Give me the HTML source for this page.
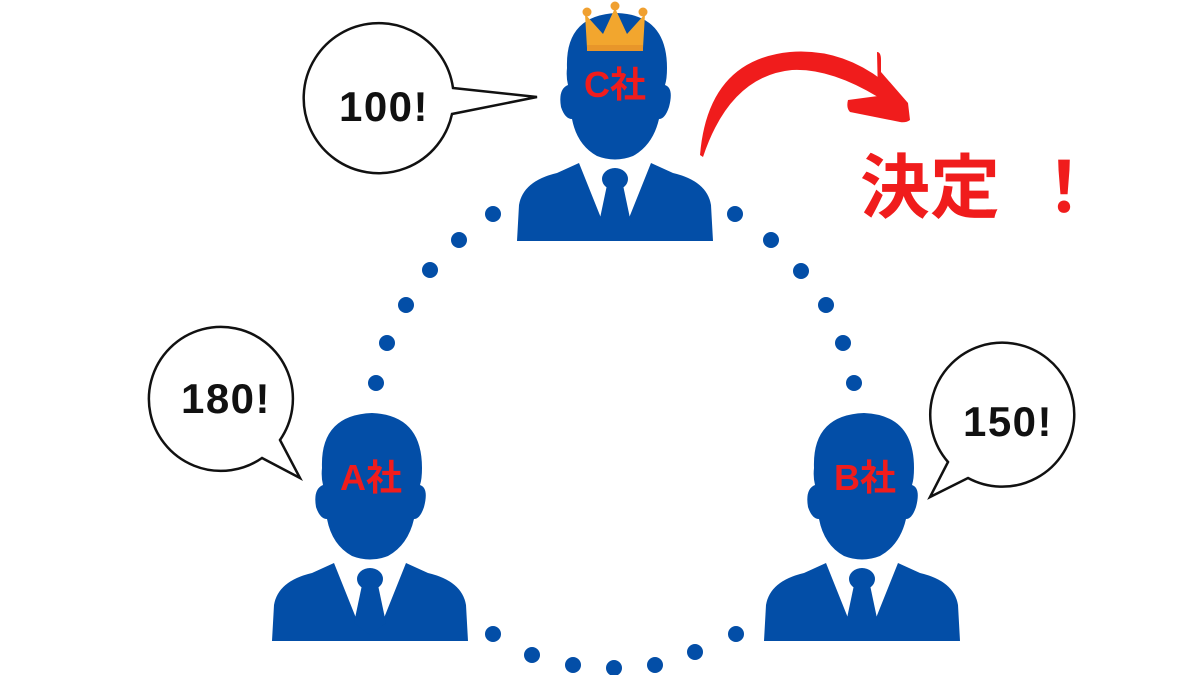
<!DOCTYPE html>
<html><head><meta charset="utf-8"><style>
html,body{margin:0;padding:0;background:#fff;}
svg{display:block;}
.lbl{font-family:"Liberation Sans","Noto Sans CJK JP",sans-serif;font-weight:bold;}
</style></head><body>
<svg width="1200" height="675" viewBox="0 0 1200 675" xmlns="http://www.w3.org/2000/svg">
<defs>
<g id="p">
  <path d="M50,55 Q48,2 100,0 Q150,2 150,55 Q150,66 148,72 Q157,75 152,94 Q148,106 142,106 Q136,132 116,143 Q98,150 80,143 Q60,132 55,106 Q48,106 44,94 Q41,76 51,72 Q49,64 50,55 Z" fill="#034ea7"/>
  <path d="M0,228 L2,192 Q6,168 40,160 L62,150 L86,210 L110,210 L134,150 L156,160 Q190,168 194,192 L196,228 Z" fill="#034ea7"/>
  <ellipse cx="98" cy="166" rx="13" ry="11" fill="#034ea7"/>
  <path d="M90,172 L106,172 L114,210 L98,222 L82,210 Z" fill="#034ea7"/>
</g>
</defs>
<g fill="#034ea7">
<circle cx="493" cy="214" r="8"/><circle cx="459" cy="240" r="8"/><circle cx="430" cy="270" r="8"/><circle cx="406" cy="305" r="8"/><circle cx="387" cy="343" r="8"/><circle cx="376" cy="383" r="8"/>
<circle cx="493" cy="634" r="8"/><circle cx="532" cy="655" r="8"/><circle cx="573" cy="665" r="8"/><circle cx="614" cy="668" r="8"/><circle cx="655" cy="665" r="8"/><circle cx="695" cy="652" r="8"/><circle cx="736" cy="634" r="8"/>
<circle cx="735" cy="214" r="8"/><circle cx="771" cy="240" r="8"/><circle cx="801" cy="271" r="8"/><circle cx="826" cy="305" r="8"/><circle cx="843" cy="343" r="8"/><circle cx="854" cy="383" r="8"/>
</g>
<use href="#p" x="517" y="13"/>
<use href="#p" x="272" y="413"/>
<use href="#p" x="764" y="413"/>
<g>
<path d="M587,48 L585,14 L603,34 L615,8 L627,34 L645,14 L643,48 Z" fill="#f2a62e"/>
<rect x="587" y="45" width="56" height="6" fill="#e8962a"/>
<circle cx="587" cy="12" r="4.5" fill="#f0a030"/><circle cx="615" cy="6" r="4.5" fill="#f0a030"/><circle cx="643" cy="12" r="4.5" fill="#f0a030"/>
</g>
<text x="615" y="97" text-anchor="middle" class="lbl" font-size="36" fill="#f01c1c">C社</text>
<text x="371" y="490" text-anchor="middle" class="lbl" font-size="36" fill="#f01c1c">A社</text>
<text x="865" y="490" text-anchor="middle" class="lbl" font-size="36" fill="#f01c1c">B社</text>
<g fill="#fff" stroke="#111" stroke-width="2.5" stroke-linejoin="miter">
<path d="M453,88 L537,97 L452,114 A75,75 0 1 1 453,88 Z"/>
<path d="M280,440 L300,478 L262,458 A72,72 0 1 1 280,440 Z"/>
<path d="M948,462 L930,497 L968,478 A72,72 0 1 0 948,462 Z"/>
</g>
<text x="384" y="121" text-anchor="middle" class="lbl" font-size="42" letter-spacing="1.5" fill="#111">100!</text>
<text x="226" y="413" text-anchor="middle" class="lbl" font-size="42" letter-spacing="1.5" fill="#111">180!</text>
<text x="1008" y="436" text-anchor="middle" class="lbl" font-size="42" letter-spacing="1.5" fill="#111">150!</text>
<path d="M700,155 Q708,60 790,52 Q840,48 882,80 L878,97 Q830,68 792,70 Q730,76 703,157 Z" fill="#f01c1c"/>
<path d="M877,52 Q881,52 881,60 L881,72 L908,103 L910,120 Q906,123 900,122 L850,112 Q846,108 848,100 L878,96 Z" fill="#f01c1c"/>
<text x="860" y="212" class="lbl" font-size="70" fill="#f01c1c">決定</text>
<text x="1029" y="212" class="lbl" font-size="70" fill="#f01c1c">！</text>
</svg>
</body></html>
